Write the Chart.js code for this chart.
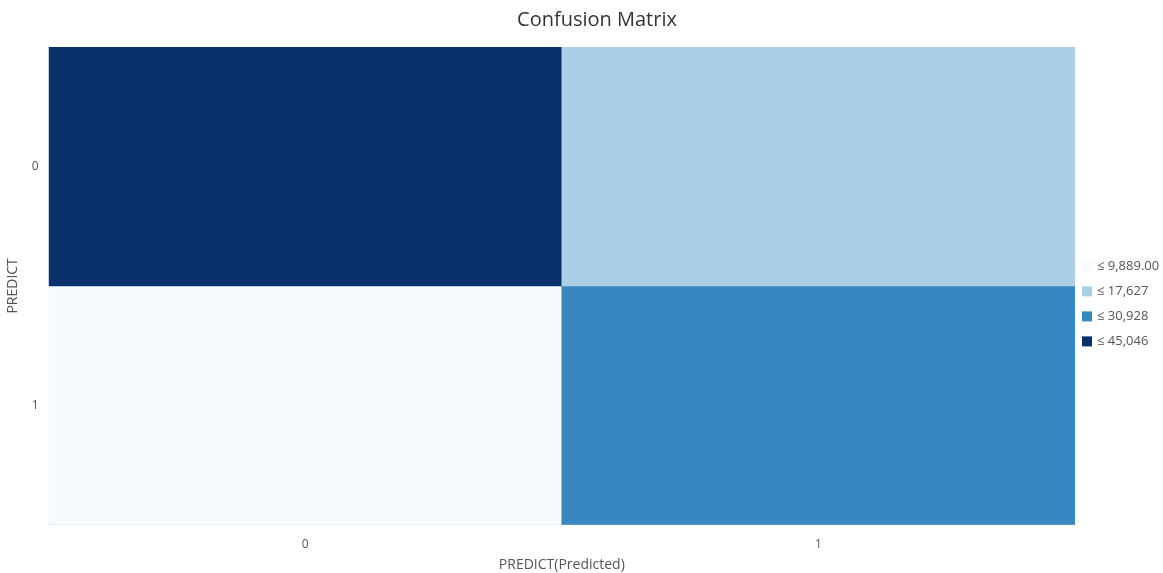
<!DOCTYPE html>
<html>
<head>
<meta charset="utf-8">
<script src="https://cdn.jsdelivr.net/npm/chart.js@4.4.1/dist/chart.umd.min.js"></script>
<style>
  html, body { margin:0; padding:0; background:#fff; }
  #wrap { width:1163px; height:573px; position:relative; }
</style>
</head>
<body>
<div id="wrap"><canvas id="cm"></canvas></div>
<script>
// predicted classes (columns) and actual classes (rows)
const predictedLabels = ['0', '1'];
const actualLabels = ['0', '1'];
// counts per row, one value per predicted column
const row0Counts = [45046, 17627];
const row1Counts = [9889, 30928];
// colour scale: upper bound -> colour
const legendBounds = [9889.00, 17627, 30928, 45046];
const legendText = ['≤ 9,889.00', '≤ 17,627', '≤ 30,928', '≤ 45,046'];
const legendColors = ['#f7fbff', '#abd0e6', '#3787c0', '#08306b'];
const chartTitle = 'Confusion Matrix';

function colorFor(v){
  for (let i = 0; i < legendBounds.length; i++) {
    if (v <= legendBounds[i]) return legendColors[i];
  }
  return legendColors[legendColors.length - 1];
}

const rows = [row0Counts, row1Counts];
const datasets = rows.map((vals, i) => ({
  label: 'PREDICT ' + actualLabels[i],
  counts: vals,
  data: vals.map(() => 1),           // each cell one unit tall in the stack
  backgroundColor: vals.map(colorFor),
  borderWidth: 0,
  barPercentage: 1,
  categoryPercentage: 1,
  stack: 'm'
}));

const textColor = '#555';
const fontFam = '"Open Sans", "Noto Sans", sans-serif';

// title sits a bit right of centre, and a piecewise colour legend on the right
const decorations = {
  id: 'decorations',
  afterDraw(chart){
    const ctx = chart.ctx, a = chart.chartArea;
    ctx.save();
    ctx.font = '20px ' + fontFam;
    ctx.fillStyle = '#333';
    ctx.textAlign = 'center';
    ctx.textBaseline = 'alphabetic';
    ctx.fillText(chartTitle, a.right - 478, 26);

    const mid = (a.top + a.bottom) / 2 + 18;
    ctx.font = '13px ' + fontFam;
    ctx.textBaseline = 'middle';
    ctx.textAlign = 'left';
    legendText.forEach((t, i) => {
      const cy = mid + (i - 1.5) * 25;
      ctx.fillStyle = legendColors[i];
      ctx.fillRect(a.right + 7, cy - 5, 10, 10);
      ctx.fillStyle = textColor;
      ctx.fillText(t, a.right + 22, cy);
    });
    ctx.restore();
  }
};

new Chart(document.getElementById('cm'), {
  type: 'bar',
  data: { labels: predictedLabels, datasets },
  plugins: [decorations],
  options: {
    responsive: true,
    maintainAspectRatio: false,
    animation: false,
    layout: { padding: { left: 5, right: 88, top: 47, bottom: 0 } },
    plugins: {
      title: { display: false },
      tooltip: {
        callbacks: {
          label: ctx => ctx.dataset.label + ': ' + ctx.dataset.counts[ctx.dataIndex].toLocaleString('en-US')
        }
      },
      legend: { display: false }
    },
    scales: {
      x: {
        stacked: true,
        grid: { display: false, drawTicks: false },
        border: { display: true, color: '#c5d3e2', width: 1 },
        ticks: { color: textColor, font: { family: fontFam, size: 12 }, padding: 13 },
        title: { display: true, text: 'PREDICT(Predicted)', color: textColor,
                 font: { family: fontFam, size: 14 }, padding: { top: 0, bottom: 0 } },
        afterFit: scale => { scale.height -= 9; }
      },
      y: {
        stacked: true,
        reverse: true,
        min: 0, max: actualLabels.length,
        grid: { display: false, drawTicks: false },
        border: { display: false },
        afterBuildTicks: axis => { axis.ticks = actualLabels.map((_, i) => ({ value: i + 0.5 })); },
        ticks: {
          color: textColor, font: { family: fontFam, size: 12 }, padding: 10,
          callback: v => actualLabels[Math.floor(v)]
        },
        title: { display: true, text: 'PREDICT', color: textColor,
                 font: { family: fontFam, size: 14 }, padding: { top: 0, bottom: 0 } }
      }
    }
  }
});
</script>
</body>
</html>
